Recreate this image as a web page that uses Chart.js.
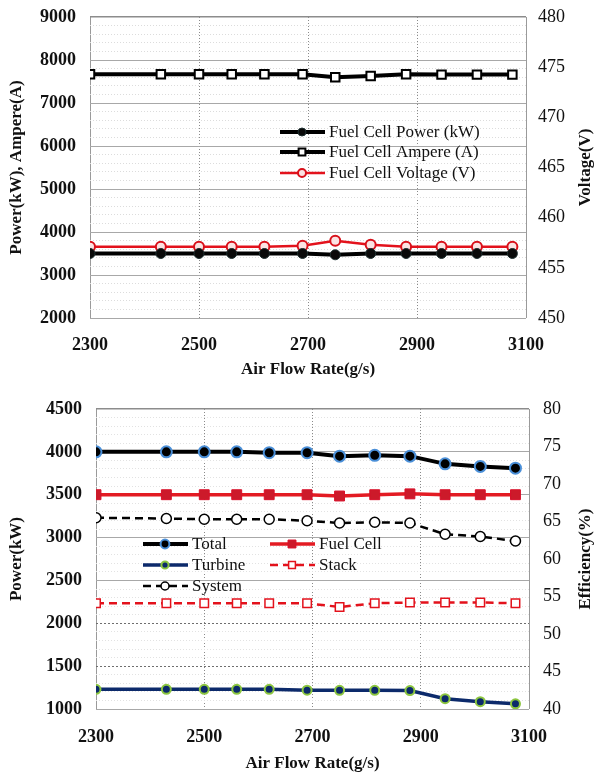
<!DOCTYPE html>
<html>
<head>
<meta charset="utf-8">
<script src="https://cdn.jsdelivr.net/npm/chart.js@4.4.1/dist/chart.umd.min.js"></script>
<style>
  html, body { margin: 0; padding: 0; background: #fff; }
  #wrap { position: relative; width: 596px; height: 772px; }
  .box { position: absolute; left: 0; width: 596px; }
</style>
</head>
<body>
<div id="wrap">
  <div class="box" style="top:0;height:385px"><canvas id="topChart"></canvas></div>
  <div class="box" style="top:385px;height:387px"><canvas id="bottomChart"></canvas></div>
</div>
<script>
// x values (air flow rate, g/s)
const airFlow = [2300, 2430, 2500, 2560, 2620, 2690, 2750, 2815, 2880, 2945, 3010, 3075];

// top chart
const fcPower = [3500, 3500, 3500, 3500, 3500, 3500, 3470, 3500, 3500, 3500, 3500, 3500];
const fcAmpere = [7670, 7670, 7670, 7670, 7670, 7670, 7600, 7630, 7670, 7660, 7660, 7660];
const fcVoltage = [457.1, 457.1, 457.1, 457.1, 457.1, 457.2, 457.7, 457.3, 457.1, 457.1, 457.1, 457.1];

// bottom chart
const total = [4000, 4000, 4000, 4000, 3990, 3990, 3950, 3960, 3950, 3860, 3830, 3810];
const fuelCell = [3500, 3500, 3500, 3500, 3500, 3500, 3485, 3500, 3510, 3500, 3500, 3500];
const turbine = [1230, 1230, 1230, 1230, 1230, 1220, 1218, 1218, 1215, 1120, 1085, 1060];
const stackEff = [54.1, 54.1, 54.1, 54.1, 54.1, 54.1, 53.6, 54.1, 54.2, 54.2, 54.2, 54.1];
const systemEff = [65.5, 65.4, 65.3, 65.3, 65.3, 65.1, 64.8, 64.9, 64.8, 63.3, 63.0, 62.4];

const xy = arr => arr.map((v, i) => ({ x: airFlow[i], y: v }));

const SERIF = '"Liberation Serif", "Times New Roman", serif';

// legend drawn inside the plot
const boxLegend = {
  id: 'boxLegend',
  afterDatasetsDraw(chart, args, opts) {
    if (!opts.items) return;
    const ctx = chart.ctx;
    ctx.save();
    ctx.font = opts.font;
    ctx.textBaseline = 'middle';
    opts.items.forEach(it => {
      const ds = chart.data.datasets[it.index];
      ctx.strokeStyle = ds.borderColor;
      ctx.lineWidth = ds.borderWidth;
      ctx.setLineDash(ds.borderDash || []);
      ctx.beginPath();
      ctx.moveTo(it.x, it.y);
      ctx.lineTo(it.x + 45, it.y);
      ctx.stroke();
      ctx.setLineDash([]);
      const r = ds.pointRadius * 0.8;
      const cx = it.x + 22;
      ctx.fillStyle = ds.pointBackgroundColor;
      ctx.strokeStyle = ds.pointBorderColor;
      ctx.lineWidth = ds.pointBorderWidth;
      ctx.beginPath();
      if (ds.pointStyle === 'rect') {
        const s = r * 1.414;
        ctx.rect(cx - s / 2, it.y - s / 2, s, s);
      } else {
        ctx.arc(cx, it.y, r, 0, Math.PI * 2);
      }
      ctx.fill();
      ctx.stroke();
      ctx.fillStyle = '#111';
      ctx.fillText(ds.label, it.x + 49, it.y + 1);
    });
    ctx.restore();
  }
};

// right axis title reading bottom-to-top
const rightTitle = {
  id: 'rightTitle',
  afterDraw(chart, args, opts) {
    if (!opts.text) return;
    const a = chart.chartArea;
    const ctx = chart.ctx;
    ctx.save();
    ctx.translate(opts.x, (a.top + a.bottom) / 2);
    ctx.rotate(-Math.PI / 2);
    ctx.font = 'bold 17px ' + SERIF;
    ctx.fillStyle = '#111';
    ctx.textAlign = 'center';
    ctx.textBaseline = 'middle';
    ctx.fillText(opts.text, 0, 0);
    ctx.restore();
  }
};

Chart.register(boxLegend, rightTitle);

function fixV(w) {
  return s => { s.width = w; s.paddingTop = 0; s.paddingBottom = 0; };
}

function xAxis(h, tickPad, titlePad) {
  return {
    type: 'linear', min: 2300, max: 3100,
    afterFit: s => { s.height = h; },
    ticks: {
      stepSize: 200, padding: tickPad, color: '#111',
      font: { family: SERIF, size: 18, weight: 'bold' },
      callback: v => String(v)
    },
    grid: {
      drawTicks: false,
      color: c => (c.tick && (c.tick.value === 2300 || c.tick.value === 3100)) ? '#9a9a9a' : '#8a8a8a',
      lineWidth: 1
    },
    border: {
      display: false,
      dash: c => (c.tick && (c.tick.value === 2300 || c.tick.value === 3100)) ? [] : [1, 2]
    },
    title: { display: true, text: 'Air Flow Rate(g/s)', color: '#111', padding: { top: titlePad, bottom: titlePad },
      font: { family: SERIF, size: 17, weight: 'bold', lineHeight: 1 } }
  };
}

// ---------- top chart ----------
new Chart(document.getElementById('topChart'), {
  type: 'line',
  data: {
    datasets: [{
      label: 'Fuel Cell Power (kW)',
      data: xy(fcPower),
      yAxisID: 'y',
      borderColor: '#000', borderWidth: 4,
      pointStyle: 'circle', pointRadius: 5, pointBackgroundColor: '#0a0a0a', pointBorderColor: '#1d2f2f', pointBorderWidth: 1
    }, {
      label: 'Fuel Cell Ampere (A)',
      data: xy(fcAmpere),
      yAxisID: 'y',
      borderColor: '#000', borderWidth: 4,
      pointStyle: 'rect', pointRadius: 6, pointBackgroundColor: '#fff', pointBorderColor: '#000', pointBorderWidth: 2
    }, {
      label: 'Fuel Cell Voltage (V)',
      data: xy(fcVoltage),
      yAxisID: 'y2',
      borderColor: '#e3121c', borderWidth: 2.5,
      pointStyle: 'circle', pointRadius: 5, pointBackgroundColor: '#fbe3e3', pointBorderColor: '#d8101a', pointBorderWidth: 2
    }]
  },
  options: {
    responsive: true, maintainAspectRatio: false, animation: false,
    layout: { padding: { top: 17, left: 0, right: 0, bottom: 0 } },
    elements: { line: { tension: 0 } },
    plugins: {
      legend: { display: false }, tooltip: { enabled: false },
      boxLegend: {
        font: '17px ' + SERIF,
        items: [{ index: 0, x: 280, y: 132 }, { index: 1, x: 280, y: 152 }, { index: 2, x: 280, y: 173 }]
      },
      rightTitle: { text: 'Voltage(V)', x: 586 }
    },
    scales: {
      x: xAxis(67, 17, 6.5),
      y: {
        position: 'left', min: 2000, max: 9000,
        afterFit: fixV(90),
        ticks: {
          stepSize: 200, autoSkip: false, padding: 14, color: '#111',
          font: { family: SERIF, size: 18, weight: 'bold' },
          callback: v => (v % 1000 === 0 ? v : '')
        },
        grid: {
          drawTicks: false,
          color: c => c.tick.value === 9000 ? '#8c8c8c' : (c.tick.value % 1000 === 0 ? '#a8a8a8' : '#dcdcdc'),
          lineWidth: c => c.tick.value === 9000 ? 1.5 : 1
        },
        border: { display: false, dash: c => (c.tick && c.tick.value % 1000 !== 0) ? [1, 2] : [] },
        title: { display: true, text: 'Power(kW), Ampere(A)', color: '#111', padding: { top: 6, bottom: 0 },
          font: { family: SERIF, size: 17, weight: 'bold' } }
      },
      y2: {
        position: 'right', min: 450, max: 480,
        afterFit: fixV(70),
        ticks: { stepSize: 5, padding: 12, color: '#111', font: { family: SERIF, size: 18 } },
        grid: { display: false, drawTicks: false },
        border: { display: false }
      }
    }
  }
});

// ---------- bottom chart ----------
new Chart(document.getElementById('bottomChart'), {
  type: 'line',
  data: {
    datasets: [{
      label: 'Total',
      data: xy(total),
      yAxisID: 'y',
      borderColor: '#000', borderWidth: 4,
      pointStyle: 'circle', pointRadius: 5.5, pointBackgroundColor: '#000', pointBorderColor: '#4a8fd8', pointBorderWidth: 2
    }, {
      label: 'Fuel Cell',
      data: xy(fuelCell),
      yAxisID: 'y',
      borderColor: '#e31b23', borderWidth: 3.5,
      pointStyle: 'rect', pointRadius: 7, pointBackgroundColor: '#cc1a2a', pointBorderColor: '#d8102a', pointBorderWidth: 1
    }, {
      label: 'Turbine',
      data: xy(turbine),
      yAxisID: 'y',
      borderColor: '#0c2a6b', borderWidth: 3.5,
      pointStyle: 'circle', pointRadius: 4.5, pointBackgroundColor: '#0c2a6b', pointBorderColor: '#8cc63f', pointBorderWidth: 2
    }, {
      label: 'Stack',
      data: xy(stackEff),
      yAxisID: 'y2',
      borderColor: '#e3121c', borderWidth: 2.5, borderDash: [8, 5],
      pointStyle: 'rect', pointRadius: 6, pointBackgroundColor: '#fff', pointBorderColor: '#e3121c', pointBorderWidth: 1.5
    }, {
      label: 'System',
      data: xy(systemEff),
      yAxisID: 'y2',
      borderColor: '#000', borderWidth: 2.5, borderDash: [8, 5],
      pointStyle: 'circle', pointRadius: 5, pointBackgroundColor: '#fff', pointBorderColor: '#000', pointBorderWidth: 1.5
    }]
  },
  options: {
    responsive: true, maintainAspectRatio: false, animation: false,
    layout: { padding: { top: 24, left: 0, right: 0, bottom: 0 } },
    elements: { line: { tension: 0 } },
    plugins: {
      legend: { display: false }, tooltip: { enabled: false },
      boxLegend: {
        font: '17px ' + SERIF,
        items: [
          { index: 0, x: 143, y: 159 }, { index: 1, x: 270, y: 159 },
          { index: 2, x: 143, y: 180 }, { index: 3, x: 270, y: 180 },
          { index: 4, x: 143, y: 201 }
        ]
      },
      rightTitle: { text: 'Efficiency(%)', x: 586 }
    },
    scales: {
      x: xAxis(63, 18, 0),
      y: {
        position: 'left', min: 1000, max: 4500,
        afterFit: fixV(96),
        ticks: {
          stepSize: 100, autoSkip: false, padding: 14, color: '#111',
          font: { family: SERIF, size: 18, weight: 'bold' },
          callback: v => (v % 500 === 0 ? v : '')
        },
        grid: {
          drawTicks: false,
          color: c => {
            const v = c.tick.value;
            if (v === 4500) return '#8c8c8c';
            if (v === 1500 || v === 2000) return '#6e6e6e';
            return v % 500 === 0 ? '#a8a8a8' : '#e2e2e2';
          },
          lineWidth: c => c.tick.value === 4500 ? 1.5 : 1
        },
        border: {
          display: false,
          dash: c => {
            if (!c.tick) return [];
            const v = c.tick.value;
            if (v === 1500 || v === 2000) return [2, 2];
            return v % 500 !== 0 ? [1, 2] : [];
          }
        },
        title: { display: true, text: 'Power(kW)', color: '#111', padding: { top: 6, bottom: 0 },
          font: { family: SERIF, size: 17, weight: 'bold' } }
      },
      y2: {
        position: 'right', min: 40, max: 80,
        afterFit: fixV(67),
        ticks: { stepSize: 5, padding: 14, color: '#111', font: { family: SERIF, size: 18 } },
        grid: { display: false, drawTicks: false },
        border: { display: false }
      }
    }
  }
});
</script>
</body>
</html>
